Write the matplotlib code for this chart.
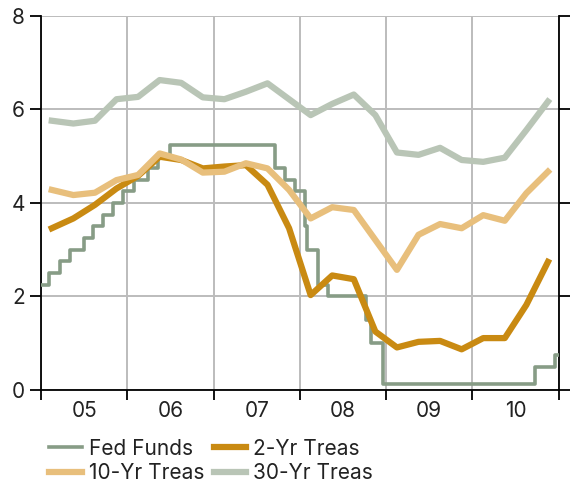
import matplotlib
matplotlib.use("Agg")
import matplotlib.pyplot as plt
import numpy as np

plt.rcParams['font.family'] = ['Inter', 'DejaVu Sans']

# Fed funds target rate, step changes (decimal year, rate)
ff_dates = [2005.0, 2005.088, 2005.219, 2005.334, 2005.493, 2005.603, 2005.718,
            2005.833, 2005.948, 2006.082, 2006.236, 2006.356, 2006.490,
            2007.712, 2007.830, 2007.942, 2008.057, 2008.079, 2008.210,
            2008.329, 2008.770, 2008.827, 2008.958, 2010.72, 2010.96, 2011.0]
ff_rates = [2.25, 2.50, 2.75, 3.00, 3.25, 3.50, 3.75, 4.00, 4.25, 4.50, 4.75,
            5.00, 5.25, 4.75, 4.50, 4.25, 3.50, 3.00, 2.25, 2.00, 1.50, 1.00,
            0.125, 0.50, 0.75, 0.75]

# quarterly treasury yields, 2005 Q1 .. 2010 Q4
quarters = [2005.125 + 0.25 * i for i in range(24)]
treas_2yr = [3.46, 3.67, 3.96, 4.31, 4.58, 4.99, 4.92, 4.74, 4.78, 4.81, 4.39, 3.46,
             2.03, 2.45, 2.37, 1.25, 0.91, 1.03, 1.05, 0.87, 1.11, 1.11, 1.82, 2.74]
treas_10yr = [4.28, 4.17, 4.22, 4.49, 4.60, 5.06, 4.93, 4.65, 4.67, 4.85, 4.74, 4.28,
              3.67, 3.91, 3.85, 3.21, 2.57, 3.32, 3.55, 3.46, 3.74, 3.62, 4.21, 4.67]
treas_30yr = [5.76, 5.70, 5.76, 6.22, 6.27, 6.63, 6.57, 6.26, 6.22, 6.38, 6.56, 6.22,
              5.88, 6.12, 6.32, 5.88, 5.08, 5.03, 5.18, 4.92, 4.88, 4.97, 5.56, 6.17]

year_labels = ['05', '06', '07', '08', '09', '10']

fig = plt.figure(figsize=(5.76, 4.82), dpi=100)
ax = fig.add_axes([0.0712, 0.1909, 0.8988, 0.7759])

ff, = ax.plot(ff_dates, ff_rates, drawstyle='steps-post', color='#879c86', lw=2.6,
              label='Fed Funds', zorder=3)
t2, = ax.plot(quarters, treas_2yr, color='#c98a12', lw=4.5, label='2-Yr Treas', zorder=4)
t10, = ax.plot(quarters, treas_10yr, color='#e8bf7c', lw=4.5, label='10-Yr Treas', zorder=4)
t30, = ax.plot(quarters, treas_30yr, color='#b9c5b6', lw=4.5, label='30-Yr Treas', zorder=2)

ax.set_xlim(2005, 2011)
ax.set_ylim(0, 8)
ax.set_xticks(np.arange(2005, 2012))
ax.set_xticklabels([])
ax.set_xticks(np.arange(2005.5, 2011), minor=True)
ax.set_xticklabels(year_labels, minor=True)
ax.tick_params(axis='x', which='major', direction='out', length=7, width=1.3)
ax.tick_params(axis='x', which='minor', length=0, labelsize=15, pad=8, colors='#222222')
ax.set_yticks([0, 2, 4, 6, 8])
ax.tick_params(axis='y', direction='out', length=8, width=1.3, labelsize=15,
               left=True, right=True, labelleft=True, labelright=True,
               labelcolor='#222222')

ax.grid(True, which='major', color='#bcbcbc', lw=1.4)
ax.set_axisbelow(True)
ax.spines['top'].set_visible(False)
for s in ['left', 'right', 'bottom']:
    ax.spines[s].set_linewidth(1.3)

# matplotlib fills legend column by column
leg = ax.legend([ff, t10, t2, t30],
                ['Fed Funds', '10-Yr Treas', '2-Yr Treas', '30-Yr Treas'],
                loc='upper left', bbox_to_anchor=(0.0, -0.108), ncol=2, frameon=False,
                fontsize=15, handlelength=1.55, handletextpad=0.35, columnspacing=0.45,
                labelspacing=0.22, borderaxespad=0)
for txt in leg.get_texts():
    txt.set_color('#222222')

fig.savefig('out.png', dpi=100)
